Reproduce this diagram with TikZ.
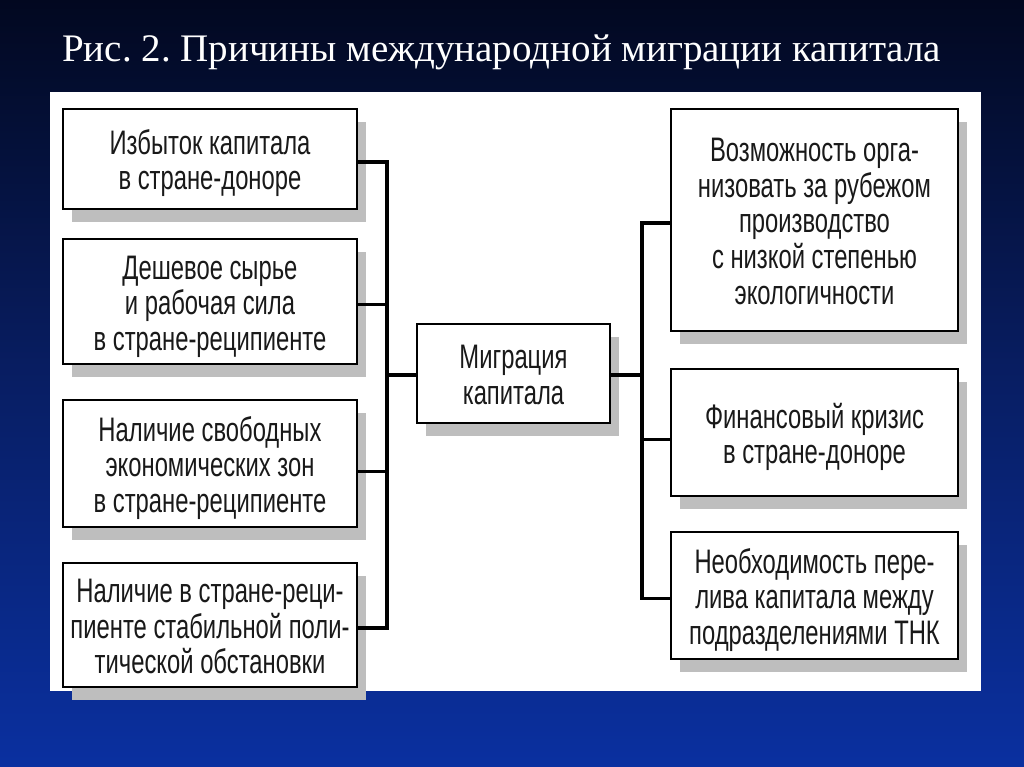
\documentclass[tikz,border=0pt]{standalone}
\usepackage{fontspec}
\setmainfont{Liberation Serif}
\newfontfamily\boxfont[FakeStretch=0.70]{Liberation Sans}
\usetikzlibrary{shadows}
\definecolor{bgtop}{RGB}{2,8,32}
\definecolor{bgmid}{RGB}{8,30,100}
\definecolor{bgbot}{RGB}{10,48,160}
\definecolor{shade}{RGB}{190,190,190}
\definecolor{ink}{RGB}{25,25,25}
\newcommand\boxlines[1]{\raisebox{-6pt}[\height][\depth]{\begin{tabular}{@{}c@{}}#1\end{tabular}}}
\tikzset{
  cbox/.style={draw=black, line width=1.8pt, fill=white, text=ink,
    font=\boxfont\fontsize{34}{35.5}\selectfont, inner sep=0pt,
    drop shadow={shadow xshift=9pt, shadow yshift=-13pt, fill=shade, opacity=1}},
  conn/.style={draw=black, line width=3.5pt},
}
\begin{document}
\frenchspacing
\begin{tikzpicture}[x=1pt,y=-1pt]
\useasboundingbox (0,0) rectangle (1024,767);
\shade[top color=bgtop, bottom color=bgbot, middle color=bgmid] (0,0) rectangle (1024,767);
\node[anchor=base west, text=white, font=\fontsize{39}{40}\selectfont, inner sep=0pt] (title) at (62,62) {Рис. 2. Причины международной миграции капитала};
\fill[white] (50,92) rectangle (981,691);
% left boxes
\node[cbox, minimum width=294pt, minimum height=100pt] (b1) at (210,159) {\boxlines{Избыток капитала\\в стране-доноре}};
\node[cbox, minimum width=294pt, minimum height=125pt] (b2) at (210,301.5) {\boxlines{Дешевое сырье\\и рабочая сила\\в стране-реципиенте}};
\node[cbox, minimum width=294pt, minimum height=127pt] (b3) at (210,463.5) {\boxlines{Наличие свободных\\экономических зон\\в стране-реципиенте}};
\node[cbox, minimum width=294pt, minimum height=124pt] (b4) at (210,625) {\boxlines{Наличие в стране-реци-\\пиенте стабильной поли-\\тической обстановки}};
% center
\node[cbox, minimum width=193pt, minimum height=99pt] (mig) at (513.5,373.5) {\boxlines{Миграция\\капитала}};
% right boxes
\node[cbox, minimum width=287pt, minimum height=222pt] (r1) at (814.5,220) {\boxlines{Возможность орга-\\низовать за рубежом\\производство\\с низкой степенью\\экологичности}};
\node[cbox, minimum width=287pt, minimum height=127pt] (r2) at (814.5,432.5) {\boxlines{Финансовый кризис\\в стране-доноре}};
\node[cbox, minimum width=287pt, minimum height=127pt] (r3) at (814.5,595.5) {\boxlines{Необходимость пере-\\лива капитала между\\подразделениями ТНК}};
% connectors
\coordinate (hubL) at (387,375);
\coordinate (hubR) at (642,375);
\draw[conn] ([yshift=-3pt]b1.east) -| (hubL);
\draw[conn] ([yshift=-3pt]b2.east) -| (hubL);
\draw[conn] ([yshift=-8pt]b3.east) -| (hubL);
\draw[conn] ([yshift=-3pt]b4.east) -| (hubL);
\draw[conn] (hubL) -- (hubL -| mig.west);
\draw[conn] (hubR -| mig.east) -- (hubR);
\draw[conn] ([yshift=-3pt]r1.west) -| (hubR);
\draw[conn] ([yshift=-7pt]r2.west) -| (hubR);
\draw[conn] ([yshift=-3pt]r3.west) -| (hubR);
\end{tikzpicture}
\end{document}
